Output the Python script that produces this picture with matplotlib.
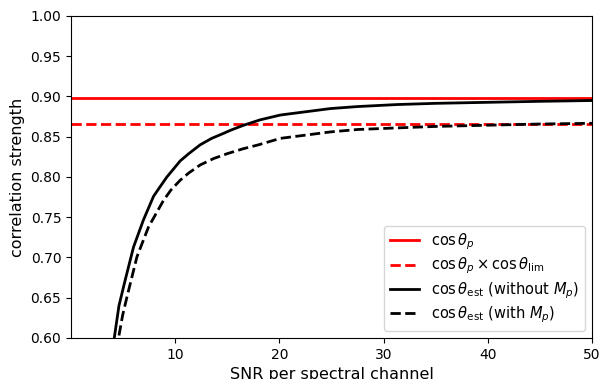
import numpy as np
import matplotlib
matplotlib.use("Agg")
import matplotlib.pyplot as plt

# values
cos_theta_p = 0.898
cos_theta_p_lim = 0.866

snr_without = [4.0, 4.15, 4.6, 5.2, 6.0, 6.96, 7.92, 8.5, 9.2, 10.48, 11.3, 12.4, 13.5,
               14.6, 15.3, 16.5, 18.15, 20.1, 22.5, 24.9, 27.5, 31.3, 35.0, 40.9, 45.0, 50.0]
est_without = [0.585, 0.600, 0.640, 0.672, 0.713, 0.747, 0.776, 0.787, 0.800, 0.820, 0.829,
               0.840, 0.848, 0.854, 0.858, 0.864, 0.871, 0.877, 0.881, 0.885, 0.8875, 0.890,
               0.8915, 0.893, 0.894, 0.895]

snr_with = [4.4, 4.56, 4.95, 5.37, 6.33, 7.44, 8.88, 9.6, 10.48, 11.3, 12.4, 13.7, 15.0,
            16.5, 18.0, 20.1, 22.5, 24.9, 27.5, 31.3, 35.0, 40.9, 45.0, 50.0]
est_with = [0.585, 0.600, 0.628, 0.651, 0.701, 0.738, 0.771, 0.784, 0.796, 0.805, 0.815,
            0.823, 0.829, 0.835, 0.840, 0.848, 0.852, 0.856, 0.859, 0.861, 0.8628, 0.8646,
            0.8658, 0.8667]

fig = plt.figure(figsize=(6.08, 3.79), dpi=100)
ax = fig.add_axes([0.1168, 0.1082, 0.8569, 0.8496])

ax.axhline(cos_theta_p, color='red', lw=2, label=r'$\cos\theta_p$')
ax.axhline(cos_theta_p_lim, color='red', lw=2, ls='--',
           label=r'$\cos\theta_p \times \cos\theta_{\rm lim}$')
ax.plot(snr_without, est_without, color='black', lw=2,
        label=r'$\cos\theta_{\rm est}$ (without $M_p$)')
ax.plot(snr_with, est_with, color='black', lw=2, ls='--',
        label=r'$\cos\theta_{\rm est}$ (with $M_p$)')

ax.set_xlim(0, 50)
ax.set_ylim(0.6, 1.0)
ax.set_xticks([10, 20, 30, 40, 50])
ax.set_yticks(np.arange(0.6, 1.001, 0.05))
ax.tick_params(labelsize=10)
ax.set_xlabel('SNR per spectral channel', fontsize=11.5)
ax.set_ylabel('correlation strength', fontsize=11.5)
ax.legend(loc='lower right', fontsize=10.5, labelspacing=0.25)

fig.savefig('out.png', dpi=100)
